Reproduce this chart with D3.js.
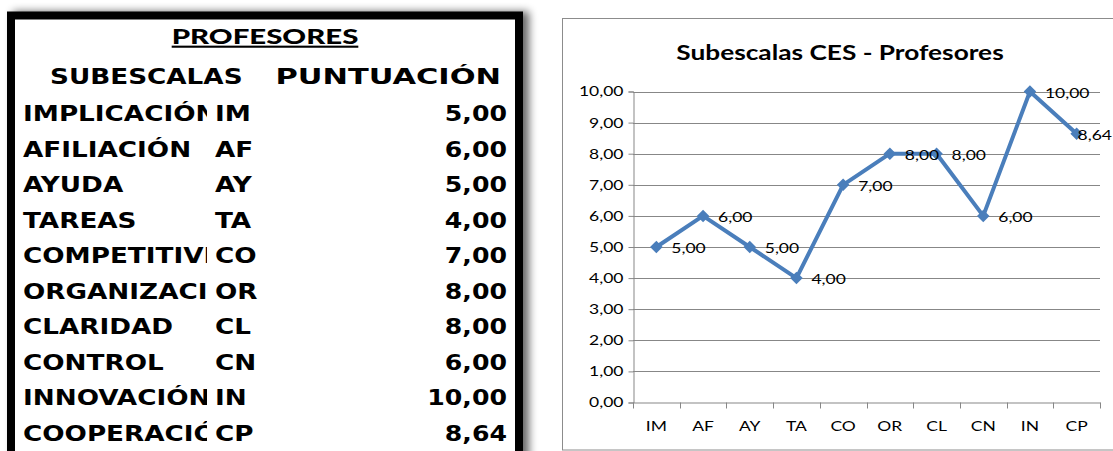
<!DOCTYPE html>
<html>
<head>
<meta charset="utf-8">
<script src="https://cdn.jsdelivr.net/npm/d3@7"></script>
<style>
  body { margin: 0; background: #fff; }
  svg { display: block; }
</style>
</head>
<body>
<svg id="chart" width="1113" height="451"></svg>
<script>
// table + chart data
const names = ["IMPLICACIÓN", "AFILIACIÓN", "AYUDA", "TAREAS", "COMPETITIVIDAD",
  "ORGANIZACIÓN", "CLARIDAD", "CONTROL", "INNOVACIÓN", "COOPERACIÓN"];
const codes = ["IM", "AF", "AY", "TA", "CO", "OR", "CL", "CN", "IN", "CP"];
const scores = [5.00, 6.00, 5.00, 4.00, 7.00, 8.00, 8.00, 6.00, 10.00, 8.64];
const yTicks = [0, 1, 2, 3, 4, 5, 6, 7, 8, 9, 10];

const fmt = v => d3.format(".2f")(v).replace(".", ",");

const svg = d3.select("#chart");
const defs = svg.append("defs");

// shadow on the table box
const f = defs.append("filter").attr("id", "shadow")
  .attr("x", "-5%").attr("y", "-5%").attr("width", "115%").attr("height", "115%");
f.append("feGaussianBlur").attr("in", "SourceAlpha").attr("stdDeviation", 4).attr("result", "b");
f.append("feOffset").attr("in", "b").attr("dx", 6).attr("dy", 0).attr("result", "o");
f.append("feComponentTransfer").attr("in", "o").attr("result", "s")
  .append("feFuncA").attr("type", "linear").attr("slope", 0.6);
const fm = f.append("feMerge");
fm.append("feMergeNode").attr("in", "s");
fm.append("feMergeNode").attr("in", "SourceGraphic");

////////////////// TABLE
const tableG = svg.append("g");
tableG.append("rect")
  .attr("x", 11).attr("y", 15.5).attr("width", 508).attr("height", 460)
  .attr("fill", "#fff").attr("stroke", "#000").attr("stroke-width", 8)
  .attr("filter", "url(#shadow)");

// names are cut at the code column, like the spreadsheet cells
defs.append("clipPath").attr("id", "colA")
  .append("rect").attr("x", 0).attr("y", 0).attr("width", 207).attr("height", 451);

const tableFont = "'DejaVu Sans', Verdana, sans-serif";
const stretched = (sel, x, y, s = 1.25) => sel.attr("transform", `translate(${x},${y}) scale(${s},1)`);

tableG.append("text")
  .call(stretched, 265, 44, 1.4)
  .attr("text-anchor", "middle")
  .attr("font-family", "Lato, sans-serif").attr("font-weight", 900)
  .attr("font-size", 21).attr("text-decoration", "underline")
  .text("PROFESORES");

tableG.append("text").call(stretched, 50, 84)
  .attr("font-family", tableFont).attr("font-weight", "bold").attr("font-size", 21)
  .text("SUBESCALAS");
tableG.append("text").call(stretched, 501, 84, 1.45)
  .attr("text-anchor", "end")
  .attr("font-family", tableFont).attr("font-weight", "bold").attr("font-size", 21)
  .text("PUNTUACIÓN");

const rowY = d3.scalePoint().domain(codes).range([121, 441]);

const rows = tableG.selectAll("g.row").data(codes).enter().append("g").attr("class", "row")
  .attr("font-family", tableFont).attr("font-weight", "bold").attr("font-size", 21);

rows.append("g").attr("clip-path", "url(#colA)")
  .append("text").each(function(d, i) {
    d3.select(this).call(stretched, 23, rowY(d)).text(names[i]);
  });
rows.append("text").each(function(d) {
  d3.select(this).call(stretched, 215, rowY(d)).text(d);
});
rows.append("text").each(function(d, i) {
  d3.select(this).call(stretched, 507, rowY(d), 1.2).attr("text-anchor", "end").text(fmt(scores[i]));
});

////////////////// LINE CHART
const chartG = svg.append("g");
chartG.append("rect")
  .attr("x", 562.5).attr("y", 18.5).attr("width", 560).attr("height", 431.5)
  .attr("fill", "#fff").attr("stroke", "#8c8c8c").attr("stroke-width", 1);

const lx = 1.25;
const chartFont = "Lato, 'Open Sans', sans-serif";
const wide = (sel, x, y) => sel.attr("transform", `translate(${x},${y}) scale(${lx},1)`);

chartG.append("text").call(wide, 840, 60)
  .attr("text-anchor", "middle")
  .attr("font-family", chartFont).attr("font-weight", "bold").attr("font-size", 21)
  .text("Subescalas CES - Profesores");

const x = d3.scaleBand().domain(codes).range([633, 1100]);
const y = d3.scaleLinear().domain([0, 10]).range([402.5, 91.5]);

// gridlines
chartG.append("g").selectAll("line").data(yTicks.slice(1)).enter().append("line")
  .attr("x1", 633).attr("x2", 1100)
  .attr("y1", d => Math.round(y(d)) + 0.5).attr("y2", d => Math.round(y(d)) + 0.5)
  .attr("stroke", "#878787");

// y axis
const yAxis = chartG.append("g").attr("transform", "translate(633.5,0)")
  .call(d3.axisLeft(y).tickValues(yTicks).tickSize(5).tickPadding(6).tickFormat(fmt));
yAxis.select(".domain").attr("stroke", "#878787");
yAxis.selectAll(".tick line").attr("stroke", "#878787");
yAxis.selectAll(".tick text")
  .attr("font-family", chartFont).attr("font-size", 14).attr("fill", "#000")
  .attr("transform", `scale(${lx},1)`)
  .attr("x", -10 / lx);

// x axis
const xAxis = chartG.append("g").attr("transform", "translate(0,402.5)")
  .call(d3.axisBottom(x).tickSize(0).tickPadding(19));
xAxis.select(".domain").attr("stroke", "#878787");
xAxis.selectAll(".tick text")
  .attr("font-family", chartFont).attr("font-size", 14).attr("fill", "#000")
  .attr("transform", `scale(${lx},1)`);
// category boundary tick marks
chartG.append("g").selectAll("line")
  .data(codes.map(c => x(c)).concat([x.range()[1]])).enter().append("line")
  .attr("x1", d => Math.round(d) + 0.5).attr("x2", d => Math.round(d) + 0.5)
  .attr("y1", 402.5).attr("y2", 408.5).attr("stroke", "#878787");

// line + markers
const cx = d => x(d) + x.bandwidth() / 2;
const line = d3.line().x((d, i) => cx(codes[i])).y(d => y(d));
chartG.append("path").datum(scores)
  .attr("d", line).attr("fill", "none")
  .attr("stroke", "#4a7ebb").attr("stroke-width", 4).attr("stroke-linejoin", "round");

chartG.append("g").selectAll("path").data(scores).enter().append("path")
  .attr("d", d3.symbol(d3.symbolDiamond2, 100))
  .attr("transform", (d, i) => `translate(${cx(codes[i])},${y(d)})`)
  .attr("fill", "#4a7ebb");

// value labels, pulled back inside the page when they would run off the right edge
const labels = chartG.append("g").selectAll("text").data(scores).enter().append("text")
  .attr("font-family", chartFont).attr("font-size", 14).attr("fill", "#000")
  .text(fmt);
labels.each(function(d, i) {
  const w = this.getComputedTextLength() * lx;
  const lxPos = Math.min(cx(codes[i]) + 15, 1112 - w);
  d3.select(this).attr("transform", `translate(${lxPos},${y(d) + 6}) scale(${lx},1)`);
});
</script>
</body>
</html>
